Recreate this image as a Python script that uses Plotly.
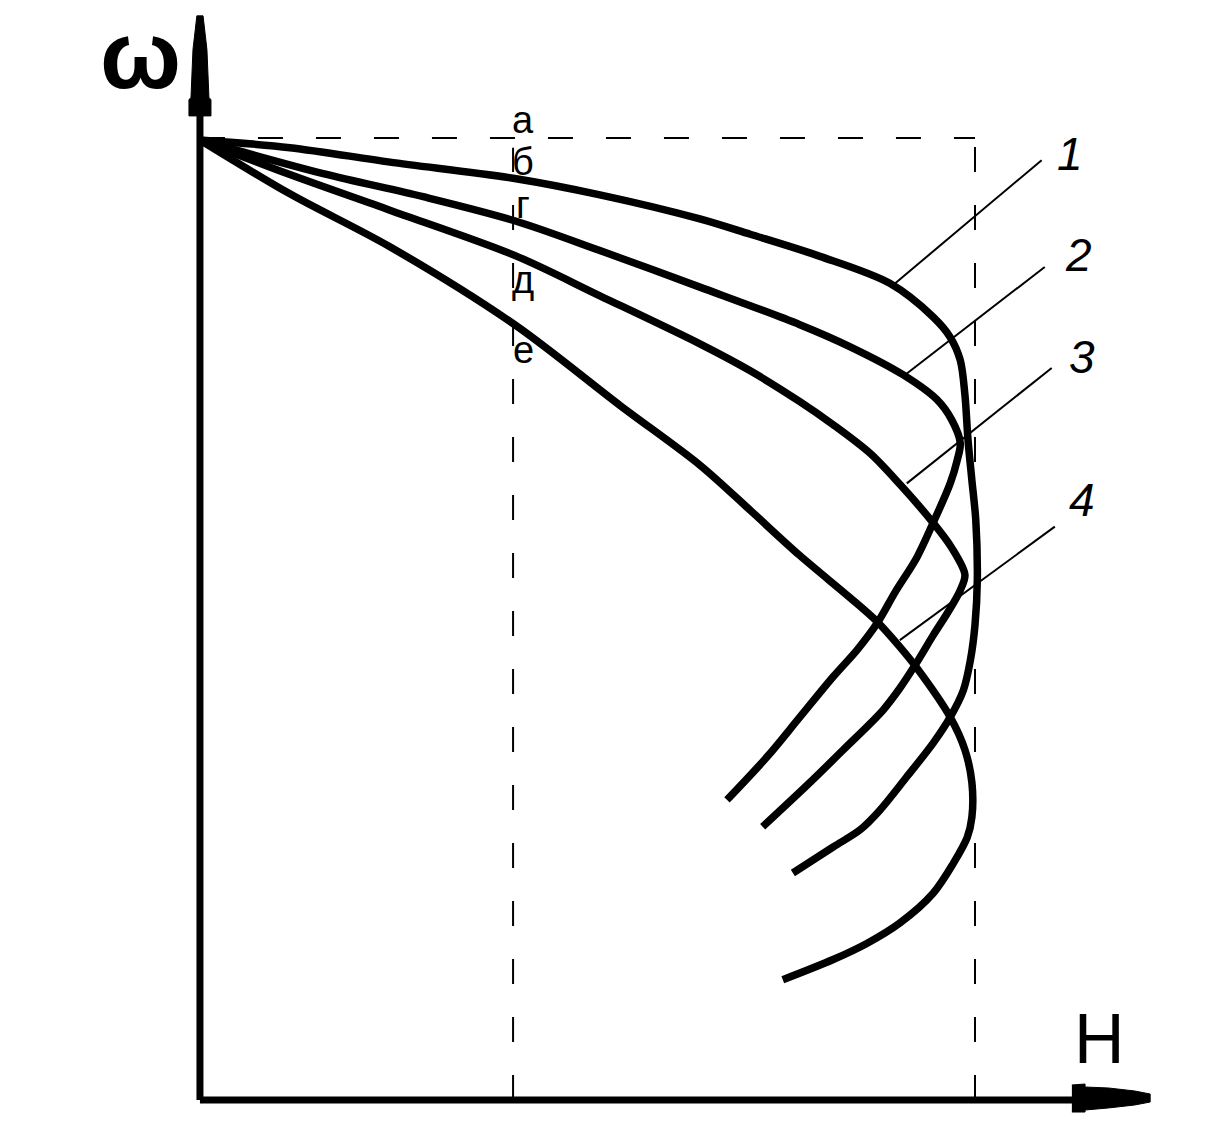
import plotly.graph_objects as go

# ---- data (H horizontal, omega vertical; 1.0 = dashed reference lines) ----
curve1_H = [0.000, 0.116, 0.245, 0.406, 0.516, 0.645, 0.710, 0.800, 0.890, 0.946, 0.968, 0.981, 0.987, 0.991,
            0.996, 1.001, 1.003, 1.000, 0.994, 0.985, 0.968, 0.946, 0.912, 0.877, 0.852, 0.817, 0.765]
curve1_w = [0.998, 0.990, 0.975, 0.958, 0.941, 0.916, 0.900, 0.877, 0.849, 0.814, 0.793, 0.769, 0.733, 0.686,
            0.644, 0.603, 0.541, 0.494, 0.457, 0.426, 0.398, 0.371, 0.336, 0.301, 0.281, 0.263, 0.236]

curve2_H = [0.000, 0.159, 0.288, 0.406, 0.516, 0.645, 0.774, 0.839, 0.907, 0.951, 0.970, 0.981, 0.977,
            0.968, 0.946, 0.925, 0.897, 0.874, 0.848, 0.817, 0.774, 0.732, 0.680]
curve2_w = [0.998, 0.963, 0.939, 0.914, 0.883, 0.845, 0.806, 0.783, 0.754, 0.728, 0.707, 0.683, 0.665,
            0.641, 0.600, 0.564, 0.528, 0.496, 0.468, 0.440, 0.398, 0.357, 0.312]

curve3_H = [0.000, 0.116, 0.245, 0.406, 0.516, 0.645, 0.710, 0.774, 0.817, 0.865, 0.903, 0.946, 0.970,
            0.987, 0.981, 0.965, 0.946, 0.925, 0.903, 0.881, 0.830, 0.787, 0.726]
curve3_w = [0.998, 0.962, 0.925, 0.878, 0.836, 0.786, 0.758, 0.726, 0.702, 0.672, 0.640, 0.600, 0.574,
            0.546, 0.530, 0.507, 0.483, 0.455, 0.428, 0.405, 0.364, 0.330, 0.284]

curve4_H = [0.000, 0.116, 0.245, 0.406, 0.542, 0.645, 0.710, 0.774, 0.839, 0.874, 0.903, 0.925, 0.968,
            0.987, 0.996, 0.996, 0.990, 0.972, 0.946, 0.903, 0.861, 0.817, 0.752]
curve4_w = [0.998, 0.942, 0.887, 0.806, 0.722, 0.660, 0.613, 0.566, 0.522, 0.497, 0.471, 0.449, 0.398,
            0.364, 0.330, 0.294, 0.273, 0.246, 0.215, 0.184, 0.163, 0.146, 0.125]

curves = [(curve1_H, curve1_w), (curve2_H, curve2_w), (curve3_H, curve3_w), (curve4_H, curve4_w)]

# reference (dashed) levels
H_ref_mid = 0.404
H_ref_max = 1.0
w_ref = 1.0

# curve labels: leader from label end to point on curve
curve_labels = ["1", "2", "3", "4"]
label_H = [1.123, 1.133, 1.138, 1.138]
label_w = [0.983, 0.878, 0.772, 0.624]
leader_H0 = [1.086, 1.090, 1.099, 1.103]
leader_w0 = [0.977, 0.866, 0.761, 0.596]
leader_H1 = [0.894, 0.910, 0.912, 0.903]
leader_w1 = [0.847, 0.754, 0.641, 0.478]

# letter marks along the middle dashed line
letters = ["а", "б", "г", "д", "е"]
letters_w = [1.019, 0.975, 0.930, 0.852, 0.780]
letters_H = 0.417

# axes extents
H_axis_end = 1.226
w_axis_end = 1.127

fig = go.Figure()

# dashed reference lines
dash = "25px,33px"
fig.add_trace(go.Scatter(x=[0, H_ref_max], y=[w_ref, w_ref], mode="lines",
                         line=dict(color="black", width=2, dash=dash), hoverinfo="skip"))
fig.add_trace(go.Scatter(x=[H_ref_mid, H_ref_mid], y=[0, 0.99], mode="lines",
                         line=dict(color="black", width=2, dash=dash), hoverinfo="skip"))
fig.add_trace(go.Scatter(x=[H_ref_max, H_ref_max], y=[0, 1.01], mode="lines",
                         line=dict(color="black", width=2, dash=dash), hoverinfo="skip"))

# leader lines
for i in range(4):
    fig.add_trace(go.Scatter(x=[leader_H0[i], leader_H1[i]], y=[leader_w0[i], leader_w1[i]],
                             mode="lines", line=dict(color="black", width=2), hoverinfo="skip"))

# curves
for hx, wy in curves:
    fig.add_trace(go.Scatter(x=hx, y=wy, mode="lines",
                             line=dict(color="black", width=7.5, shape="spline", smoothing=0.9),
                             hoverinfo="skip"))

# axes lines
fig.add_trace(go.Scatter(x=[0, 0], y=[0, w_axis_end - 0.05], mode="lines",
                         line=dict(color="black", width=7), hoverinfo="skip"))
fig.add_trace(go.Scatter(x=[0, H_axis_end - 0.05], y=[0, 0], mode="lines",
                         line=dict(color="black", width=7), hoverinfo="skip"))

# arrow heads (decorative shapes relative to axis ends)
ya_len = 0.104
yb = w_axis_end - ya_len
fig.add_trace(go.Scatter(
    x=[-0.004, 0.004, 0.009, 0.0116, 0.0142, 0.0142, -0.0142, -0.0142, -0.0116, -0.009, -0.004],
    y=[w_axis_end, w_axis_end, w_axis_end - 0.035, w_axis_end - 0.085, w_axis_end - 0.087,
       yb, yb, w_axis_end - 0.087, w_axis_end - 0.085, w_axis_end - 0.035, w_axis_end],
    mode="lines", fill="toself", fillcolor="black", line=dict(color="black", width=1), hoverinfo="skip"))

xa = H_axis_end
fig.add_trace(go.Scatter(
    x=[xa - 0.101, xa - 0.084, xa - 0.084, xa - 0.054, xa - 0.020, xa, xa, xa - 0.020, xa - 0.054,
       xa - 0.084, xa - 0.084, xa - 0.101],
    y=[0.0156, 0.0166, 0.0135, 0.0125, 0.0094, 0.0062, -0.0021, -0.0052, -0.0083, -0.0104, -0.0125, -0.0125],
    mode="lines", fill="toself", fillcolor="black", line=dict(color="black", width=1), hoverinfo="skip"))

annotations = []
for t, hx, wy in zip(curve_labels, label_H, label_w):
    annotations.append(dict(x=hx, y=wy, xref="x", yref="y", text=t, showarrow=False,
                            font=dict(family="Liberation Sans Narrow, Liberation Sans, sans-serif",
                                      size=46, color="black", style="italic")))
for t, wy in zip(letters, letters_w):
    annotations.append(dict(x=letters_H, y=wy, xref="x", yref="y", text=t, showarrow=False,
                            font=dict(family="Liberation Sans Narrow, Liberation Sans, sans-serif",
                                      size=38, color="black")))
annotations.append(dict(x=-0.077, y=1, xref="x", yref="paper", yanchor="top", text="<b>ω</b>",
                        showarrow=False, borderpad=0,
                        font=dict(family="Liberation Sans, sans-serif", size=96, color="black")))
annotations.append(dict(x=1.161, y=0.063, xref="x", yref="y", text="H", showarrow=False,
                        font=dict(family="Liberation Sans Narrow, Liberation Sans, sans-serif",
                                  size=70, color="black")))

fig.update_layout(
    width=1222, height=1148,
    margin=dict(l=0, r=0, t=0, b=0),
    paper_bgcolor="white", plot_bgcolor="white",
    showlegend=False,
    xaxis=dict(range=[-0.258, 1.3187], visible=False, fixedrange=True),
    yaxis=dict(range=[-0.0499, 1.1435], visible=False, fixedrange=True),
    annotations=annotations,
)

fig.write_html("out.html", post_script="document.body.style.margin='0';",
               config={"displayModeBar": False})
